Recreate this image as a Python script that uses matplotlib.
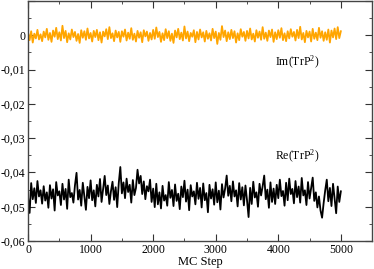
# MC history of TrP^2 (real and imaginary parts)
import numpy as np
import matplotlib
matplotlib.use('Agg')
import matplotlib.pyplot as plt
from matplotlib.ticker import MultipleLocator, FuncFormatter

plt.rcParams['font.family'] = ['Liberation Serif', 'DejaVu Serif']
plt.rcParams['mathtext.fontset'] = 'custom'
plt.rcParams['mathtext.rm'] = 'Liberation Serif'
plt.rcParams['mathtext.it'] = 'Liberation Serif:italic'

# MC steps, one value every 25 steps
step = np.arange(0, 5001, 25)

# Re(TrP^2)
re_trp2 = [
    -0.0472, -0.0518, -0.0431, -0.0478, -0.0446, -0.0489, -0.0425, -0.0470, -0.0452, -0.0491,
    -0.0440, -0.0482, -0.0458, -0.0503, -0.0437, -0.0476, -0.0449, -0.0511, -0.0428, -0.0467,
    -0.0455, -0.0495, -0.0433, -0.0479, -0.0448, -0.0506, -0.0421, -0.0472, -0.0460, -0.0488,
    -0.0437, -0.0401, -0.0479, -0.0451, -0.0497, -0.0430, -0.0469, -0.0509, -0.0442, -0.0475,
    -0.0423, -0.0481, -0.0452, -0.0499, -0.0436, -0.0470, -0.0419, -0.0486, -0.0447, -0.0410,
    -0.0466, -0.0438, -0.0492, -0.0455, -0.0427, -0.0480, -0.0443, -0.0501, -0.0431, -0.0384,
    -0.0461, -0.0429, -0.0475, -0.0418, -0.0457, -0.0436, -0.0488, -0.0422, -0.0466, -0.0445,
    -0.0392, -0.0432, -0.0410, -0.0463, -0.0426, -0.0478, -0.0440, -0.0455, -0.0421, -0.0486,
    -0.0447, -0.0501, -0.0433, -0.0493, -0.0458, -0.0505, -0.0439, -0.0482, -0.0466, -0.0497,
    -0.0428, -0.0474, -0.0451, -0.0498, -0.0435, -0.0483, -0.0462, -0.0507, -0.0441, -0.0472,
    -0.0424, -0.0485, -0.0450, -0.0510, -0.0437, -0.0470, -0.0455, -0.0493, -0.0430, -0.0477,
    -0.0445, -0.0502, -0.0432, -0.0481, -0.0460, -0.0516, -0.0436, -0.0476, -0.0449, -0.0494,
    -0.0429, -0.0487, -0.0453, -0.0508, -0.0434, -0.0473, -0.0447, -0.0409, -0.0468, -0.0439,
    -0.0484, -0.0426, -0.0470, -0.0452, -0.0499, -0.0431, -0.0479, -0.0443, -0.0496, -0.0438,
    -0.0481, -0.0530, -0.0445, -0.0492, -0.0427, -0.0473, -0.0458, -0.0500, -0.0433, -0.0467,
    -0.0440, -0.0409, -0.0478, -0.0450, -0.0503, -0.0429, -0.0486, -0.0447, -0.0492, -0.0436,
    -0.0475, -0.0421, -0.0469, -0.0454, -0.0497, -0.0430, -0.0481, -0.0418, -0.0463, -0.0448,
    -0.0490, -0.0425, -0.0472, -0.0441, -0.0488, -0.0416, -0.0467, -0.0452, -0.0495, -0.0428,
    -0.0476, -0.0446, -0.0415, -0.0483, -0.0458, -0.0502, -0.0470, -0.0511, -0.0532, -0.0489,
    -0.0452, -0.0421, -0.0484, -0.0445, -0.0498, -0.0433, -0.0477, -0.0519, -0.0441, -0.0486, -0.0455,
]

# Im(TrP^2)
im_trp2 = [
    0.0008, -0.0014, 0.0012, -0.0021, 0.0005, -0.0009, 0.0016, -0.0012, 0.0003, -0.0017,
    0.0011, -0.0006, 0.0019, -0.0013, 0.0007, -0.0019, 0.0014, -0.0004, 0.0022, -0.0011,
    0.0009, -0.0015, 0.0028, -0.0008, 0.0013, -0.0020, 0.0006, -0.0012, 0.0017, -0.0005,
    0.0010, -0.0016, 0.0004, -0.0022, 0.0015, -0.0007, 0.0012, -0.0013, 0.0020, -0.0009,
    0.0007, -0.0018, 0.0013, -0.0005, 0.0016, -0.0014, 0.0009, -0.0021, 0.0011, -0.0003,
    0.0018, -0.0011, 0.0024, -0.0008, 0.0006, -0.0017, 0.0014, -0.0006, 0.0010, -0.0019,
    0.0012, -0.0004, 0.0017, -0.0015, 0.0008, -0.0010, 0.0021, -0.0013, 0.0005, -0.0018,
    0.0013, -0.0007, 0.0009, -0.0020, 0.0015, -0.0003, 0.0011, -0.0016, 0.0007, -0.0012,
    0.0016, -0.0010, 0.0023, -0.0005, 0.0010, -0.0019, 0.0006, -0.0014, 0.0018, -0.0008,
    0.0012, -0.0016, 0.0005, -0.0022, 0.0014, -0.0006, 0.0019, -0.0011, 0.0008, -0.0015,
    0.0026, -0.0009, 0.0011, -0.0017, 0.0007, -0.0004, 0.0015, -0.0020, 0.0010, -0.0012,
    0.0017, -0.0006, 0.0009, -0.0018, 0.0013, -0.0010, 0.0006, -0.0015, 0.0019, -0.0008,
    0.0011, -0.0025, 0.0007, -0.0013, 0.0027, -0.0005, 0.0014, -0.0017, 0.0009, -0.0011,
    0.0016, -0.0008, 0.0012, -0.0021, 0.0006, -0.0014, 0.0018, -0.0004, 0.0010, -0.0016,
    0.0013, -0.0009, 0.0020, -0.0012, 0.0005, -0.0018, 0.0015, -0.0007, 0.0011, -0.0013,
    0.0024, -0.0010, 0.0008, -0.0016, 0.0014, -0.0005, 0.0017, -0.0019, 0.0009, -0.0011,
    0.0015, -0.0007, 0.0021, -0.0014, 0.0006, -0.0017, 0.0012, -0.0009, 0.0018, -0.0004,
    0.0010, -0.0015, 0.0016, -0.0008, 0.0025, -0.0012, 0.0007, -0.0020, 0.0013, -0.0006,
    0.0011, -0.0018, 0.0019, -0.0010, 0.0008, -0.0014, 0.0022, -0.0007, 0.0012, -0.0016,
    0.0009, -0.0013, 0.0017, -0.0021, 0.0014, -0.0006, 0.0020, -0.0011, 0.0024, -0.0008, 0.0012,
]

fig = plt.figure(figsize=(3.74, 2.69), dpi=100)
ax = fig.add_axes([0.075, 0.104, 0.92, 0.892])

ax.plot(step, im_trp2, color='#ffa500', lw=1.3)
ax.plot(step, re_trp2, color='black', lw=1.3)

ax.set_xlim(0, 5500)
ax.set_ylim(-0.06, 0.01)
ax.xaxis.set_major_locator(MultipleLocator(1000))
ax.xaxis.set_minor_locator(MultipleLocator(500))
ax.yaxis.set_major_locator(MultipleLocator(0.01))
ax.yaxis.set_minor_locator(MultipleLocator(0.005))

def comma_fmt(v, pos):
    if abs(v) < 1e-9:
        return '0'
    if v > 0:
        return ''
    return ('%.2f' % v).replace('.', ',')

ax.yaxis.set_major_formatter(FuncFormatter(comma_fmt))

ax.tick_params(which='both', direction='in', top=True, right=True,
               labelsize=8.5, color='#333333', pad=2)
ax.tick_params(which='major', length=5)
ax.tick_params(which='minor', length=2.5)
for s in ax.spines.values():
    s.set_color('#444444')
    s.set_linewidth(1)

ax.set_xlabel('MC Step', fontsize=9, labelpad=0)
ax.text(4300, -0.0080, 'Im(TrP$^2$)', fontsize=8.5, ha='center', va='center')
ax.text(4300, -0.0352, 'Re(TrP$^2$)', fontsize=8.5, ha='center', va='center')

fig.savefig('out.png', dpi=100)
